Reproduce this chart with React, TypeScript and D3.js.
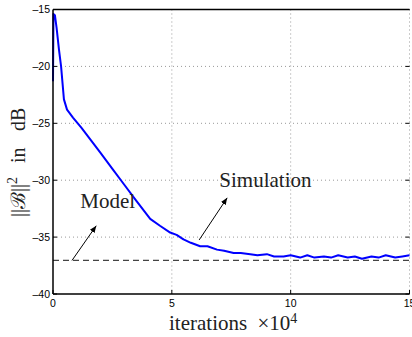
import React from 'react'
import { scaleLinear, line } from 'd3'

const iters = [0, 0.02, 0.08, 0.15, 0.25, 0.34, 0.46, 0.59, 0.84, 1.2, 1.6, 2.0, 2.5, 3.0, 3.5, 4.09, 4.5, 4.93, 5.2, 5.49, 5.8, 6.19, 6.5, 6.9, 7.2, 7.6, 7.9, 8.3, 8.6, 9.0, 9.3, 9.7, 10.0, 10.4, 10.7, 11.0, 11.4, 11.7, 12.0, 12.4, 12.7, 13.0, 13.4, 13.7, 14.0, 14.4, 14.7, 15.0]
const power = [-21.3, -15.4, -15.5, -16.6, -18.5, -20.0, -22.9, -23.8, -24.5, -25.4, -26.5, -27.6, -29.0, -30.4, -31.8, -33.4, -34.0, -34.6, -34.8, -35.2, -35.5, -35.8, -35.8, -36.1, -36.2, -36.4, -36.4, -36.5, -36.6, -36.5, -36.7, -36.7, -36.6, -36.8, -36.6, -36.8, -36.7, -36.8, -36.6, -36.8, -36.7, -36.9, -36.7, -36.8, -36.6, -36.8, -36.7, -36.6]
const modelLevel = -37.05

const xTicks = [0, 5, 10, 15]
const yTicks = [-15, -20, -25, -30, -35, -40]

// annotation anchors in data units
const simText = { x: 7.0, y: -30.6, label: 'Simulation' }
const simArrow = { x1: 6.15, y1: -35.25, x2: 7.33, y2: -31.55 }
const modelText = { x: 1.15, y: -32.4, label: 'Model' }
const modelArrow = { x1: 0.8, y1: -37.05, x2: 1.82, y2: -34.0 }

const W = 412
const H = 337
const left = 53
const right = 409.5
const top = 9.5
const bottom = 294

const App = () => {
  const x = scaleLinear().domain([0, 15]).range([left, right])
  const y = scaleLinear().domain([-40, -15]).range([bottom, top])

  const pts = iters.map((v, i) => [v, power[i]])
  const path = line().x(d => x(d[0])).y(d => y(d[1]))(pts)

  const tickFont = { fontFamily: 'Liberation Sans, Arial, sans-serif', fontSize: 10.5 }
  const serif = 'Liberation Serif, Times New Roman, serif'

  return (
    <svg width={W} height={H} style={{ position: 'absolute', left: 0, top: 0, background: '#fff' }}>
      <defs>
        <marker id='ah' viewBox='0 0 10 10' refX='10' refY='5' markerWidth='7' markerHeight='7' orient='auto'>
          <path d='M0,1 L10,5 L0,9 z' fill='#000' />
        </marker>
      </defs>

      {/* grid */}
      {xTicks.filter(t => t !== 0).map(t => (
        <line key={'gx' + t} x1={x(t)} x2={x(t)} y1={top} y2={bottom} stroke='#999' strokeDasharray='1,3' />
      ))}
      {yTicks.filter(t => t !== -40 && t !== -15).map(t => (
        <line key={'gy' + t} x1={left} x2={right} y1={y(t)} y2={y(t)} stroke='#999' strokeDasharray='1,3' />
      ))}

      {/* model level */}
      <line x1={x(0)} x2={x(15)} y1={y(modelLevel)} y2={y(modelLevel)} stroke='#444' strokeWidth={1.2} strokeDasharray='6,4' />

      {/* simulation curve */}
      <path d={path} fill='none' stroke='#0000ff' strokeWidth={2} strokeLinejoin='round' />

      {/* box */}
      <line x1={left} x2={right} y1={top} y2={top} stroke='#000' strokeWidth={1.5} />
      <line x1={left} x2={right} y1={bottom} y2={bottom} stroke='#000' strokeWidth={1.5} />
      <line x1={left} x2={left} y1={top} y2={bottom} stroke='#000' strokeWidth={1.5} />

      {/* ticks */}
      {yTicks.map(t => (
        <g key={'ty' + t}>
          <line x1={left} x2={left + 4} y1={y(t)} y2={y(t)} stroke='#000' />
          <line x1={right - 4} x2={right} y1={y(t)} y2={y(t)} stroke='#000' />
          <text x={left - 3} y={y(t) + 3.8} textAnchor='end' {...tickFont}>{'\u2013' + Math.abs(t)}</text>
        </g>
      ))}
      {xTicks.map(t => (
        <g key={'tx' + t}>
          <line x1={x(t)} x2={x(t)} y1={bottom} y2={bottom - 4} stroke='#000' />
          <text x={x(t)} y={bottom + 13} textAnchor='middle' {...tickFont}>{t}</text>
        </g>
      ))}

      {/* annotations */}
      <text x={x(simText.x)} y={y(simText.y)} fontFamily={serif} fontSize={21} fill='#222'>{simText.label}</text>
      <line x1={x(simArrow.x1)} y1={y(simArrow.y1)} x2={x(simArrow.x2)} y2={y(simArrow.y2)} stroke='#000' strokeWidth={1} markerEnd='url(#ah)' />
      <text x={x(modelText.x)} y={y(modelText.y)} fontFamily={serif} fontSize={21} fill='#222'>{modelText.label}</text>
      <line x1={x(modelArrow.x1)} y1={y(modelArrow.y1)} x2={x(modelArrow.x2)} y2={y(modelArrow.y2)} stroke='#000' strokeWidth={1} markerEnd='url(#ah)' />

      {/* axis labels */}
      <text x={169} y={330} fontFamily={serif} fontSize={21} fill='#222'>
        iterations <tspan dx={5}>{'\u00d7'}10</tspan><tspan dy={-7} fontSize={14}>4</tspan>
      </text>
      <g transform='translate(25,217) rotate(-90)'>
        <text x={0} y={0} fontFamily={serif} fontSize={20} fill='#222'>
          ||{'\u212C'}||<tspan dy={-8} fontSize={14}>2</tspan>
          <tspan dy={8} x={54}>in</tspan>
          <tspan x={86}>dB</tspan>
        </text>
      </g>
    </svg>
  )
}

export default App
